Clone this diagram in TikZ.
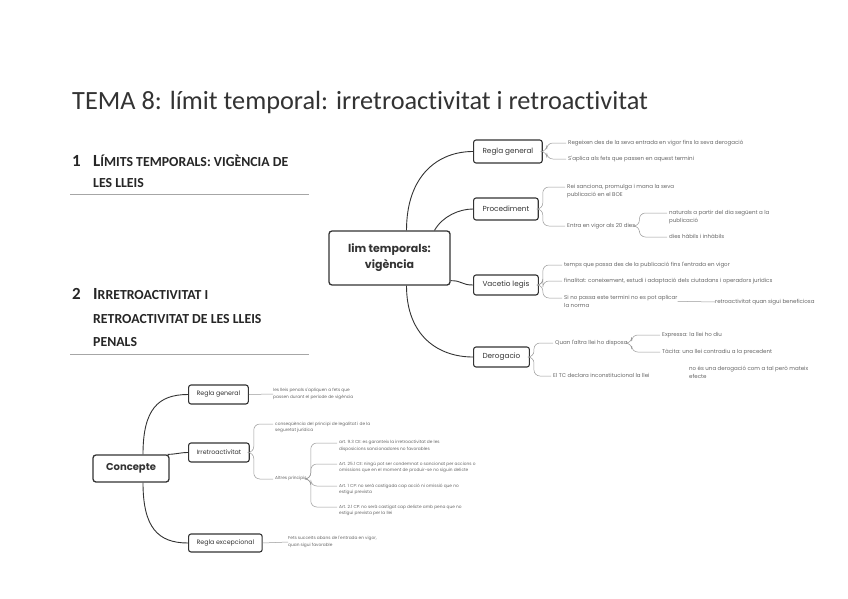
\documentclass[tikz,border=0pt]{standalone}
\usepackage{fontspec}
\setmainfont{Carlito}[Ligatures=CommonOff]
\newfontfamily\mapfont{Poppins}
\usetikzlibrary{positioning, calc}

\definecolor{inkgray}{HTML}{333333}
\definecolor{leafgray}{HTML}{666666}
\definecolor{linegray}{HTML}{9A9A9A}
\definecolor{rulegray}{HTML}{A6A6A6}

\newcommand\hsc[2]{{\fontsize{17}{18}\selectfont #1}{\fontsize{13.8}{15}\selectfont #2}}

\tikzset{
  topicbox/.style={draw=inkgray, line width=1.1pt, rounded corners=2.5pt, fill=white,
    text=inkgray, inner xsep=9pt, anchor=west},
  centralbox/.style={draw=inkgray, line width=1.3pt, rounded corners=3pt, fill=white,
    text=inkgray, align=center, font=\mapfont\bfseries},
  leaf/.style={text=leafgray, align=left, inner sep=0pt, anchor=north west,
    font=\mapfont\fontsize{5.5}{8}\selectfont},
  smallleaf/.style={leaf, font=\mapfont\fontsize{4.3}{6.5}\selectfont},
  branch/.style={draw=inkgray, line width=0.9pt},
  leafline/.style={draw=linegray, line width=0.5pt, rounded corners=6pt},
  heading/.style={anchor=base west, inner sep=0pt, text=black!85, font=\bfseries},
}

\begin{document}
\begin{tikzpicture}[x=1pt, y=-1pt]
    \fill[white] (0,0) rectangle (848,599);
    \useasboundingbox (0,0) rectangle (848,599);

    % title and headings
    \node[anchor=base west, inner sep=0pt, text=black!80, font=\fontsize{26.3}{30}\selectfont]
        (title) at (72,110) {TEMA 8: límit temporal: irretroactivitat i retroactivitat};

    \node[heading, font=\bfseries\fontsize{17}{18}\selectfont] (n1) at (72,166) {1};
    \node[heading] (h1a) at (93,166) {\hsc{L}{ÍMITS TEMPORALS: VIGÈNCIA DE}};
    \node[heading] (h1b) at (93,187) {\hsc{}{LES LLEIS}};
    \draw[rulegray, line width=0.8pt] (70,194) -- (309,194);

    \node[heading, font=\bfseries\fontsize{17}{18}\selectfont] (n2) at (72,299) {2};
    \node[heading] (h2a) at (93,299) {\hsc{I}{RRETROACTIVITAT I}};
    \node[heading] (h2b) at (93,323) {\hsc{}{RETROACTIVITAT DE LES LLEIS}};
    \node[heading] (h2c) at (93,346) {\hsc{}{PENALS}};
    \draw[rulegray, line width=0.8pt] (70,354) -- (309,354);

    % mind map: vigencia
    \node[centralbox, minimum width=121pt, minimum height=54pt,
        font=\mapfont\bfseries\fontsize{11}{16}\selectfont]
        (lt) at (389.5,258) {lim temporals:\\vigència};

    \node[topicbox, minimum height=23pt, font=\mapfont\fontsize{7.3}{9}\selectfont] (rg) at (473,151.5) {Regla general};
    \node[topicbox, minimum height=22pt, font=\mapfont\fontsize{7.3}{9}\selectfont] (pr) at (473,209) {Procediment};
    \node[topicbox, minimum height=20pt, font=\mapfont\fontsize{7.3}{9}\selectfont] (vl) at (473,285) {Vacetio legis};
    \node[topicbox, minimum height=20pt, font=\mapfont\fontsize{7.3}{9}\selectfont] (dr) at (473,357) {Derogacio};

    \draw[branch] ([xshift=17pt]lt.north) .. controls +(0,-55) and +(-35,0) .. (rg.west);
    \draw[branch] ([xshift=45pt]lt.north) .. controls +(8,-14) and +(-14,0) .. (pr.west);
    \draw[branch] ([yshift=5pt]lt.south east) .. controls +(12,0) and +(-12,0) .. (vl.west);
    \draw[branch] ([xshift=17pt]lt.south) .. controls +(0,50) and +(-35,0) .. (dr.west);

    \node[leaf] (r1) at (568,140) {Regeixen des de la seva entrada en vigor fins la seva derogació};
    \node[leaf] (r2) at (568,156) {S'aplica als fets que passen en aquest termini};
    \node[leaf] (p1) at (567,184) {Rei sanciona, promulga i mana la seva\\publicació en el BOE};
    \node[leaf] (p2) at (567,223) {Entra en vigor als 20 dies};
    \node[leaf] (p3) at (669,210) {naturals a partir del dia següent a la\\publicació};
    \node[leaf] (p4) at (669,234) {dies hàbils i inhàbils};
    \node[leaf] (v1) at (564,262) {temps que passa des de la publicació fins l'entrada en vigor};
    \node[leaf] (v2) at (564,278) {finalitat: coneixement, estudi i adaptació dels ciutadans i operadors jurídics};
    \node[leaf] (v3) at (564,295) {Si no passa este termini no es pot aplicar\\la norma};
    \node[leaf, anchor=west] (v4) at (715,302) {retroactivitat quan sigui beneficiosa};
    \node[leaf] (d1) at (555,340) {Quan l'altra llei ho disposa};
    \node[leaf] (d2) at (662,332) {Expressa: la llei ho diu};
    \node[leaf] (d3) at (662,349) {Tàcita: una llei contradiu a la precedent};
    \node[leaf] (d4) at (553,373) {El TC declara inconstitucional la llei};
    \node[leaf] (d5) at (689,366) {no és una derogació com a tal però mateix\\efecte};

    \foreach \a/\b in {rg/r1, rg/r2, pr/p1, pr/p2, p2/p3, p2/p4, vl/v1, vl/v2, vl/v3, dr/d1, dr/d4, d1/d2, d1/d3}
        \draw[leafline] (\a.east) -- ++(4,0) |- ([xshift=-2pt, yshift=-3pt]\b.north west);
    \draw[leafline] (v3.east) -- (v4.west);

    % mind map: concepte
    \node[centralbox, minimum width=76pt, minimum height=27pt,
        font=\mapfont\bfseries\fontsize{10}{12}\selectfont] (cp) at (131,468.5) {Concepte};

    \node[topicbox, inner xsep=8pt, minimum height=19pt, font=\mapfont\fontsize{6.3}{8}\selectfont] (rg2) at (188,394.5) {Regla general};
    \node[topicbox, inner xsep=8pt, minimum height=19pt, font=\mapfont\fontsize{6.3}{8}\selectfont] (ir) at (188,452.5) {Irretroactivitat};
    \node[topicbox, inner xsep=8pt, minimum height=18pt, font=\mapfont\fontsize{6.3}{8}\selectfont] (rx) at (188,543) {Regla excepcional};

    \draw[branch] ([xshift=12pt]cp.north) .. controls +(0,-45) and +(-30,0) .. (rg2.west);
    \draw[branch] ([xshift=-2pt]cp.north east) .. controls +(8,0) and +(-8,0) .. (ir.west);
    \draw[branch] ([xshift=12pt]cp.south) .. controls +(0,45) and +(-30,0) .. (rx.west);

    \node[smallleaf, anchor=west] (g1) at (273,394) {les lleis penals s'apliquen a fets que\\passen durant el període de vigència};
    \node[smallleaf] (i1) at (275,421.5) {conseqüència del principi de legalitat i de la\\seguretat jurídica};
    \node[smallleaf] (i2) at (275,476.5) {Altres principis};
    \node[smallleaf] (a1) at (339,440.5) {art. 9.3 CE: es garanteix la irretroactivitat de les\\disposicions sancionadores no favorables};
    \node[smallleaf] (a2) at (339,461.5) {Art. 25.1 CE: ningú pot ser condemnat o sancionat per accions o\\omissions que en el moment de produir-se no siguin delicte};
    \node[smallleaf] (a3) at (339,483.5) {Art. 1 CP: no serà castigada cap acció ni omissió que no\\estigui prevista};
    \node[smallleaf] (a4) at (339,504.5) {Art. 2.1 CP: no serà castigat cap delicte amb pena que no\\estigui prevista per la llei};
    \node[smallleaf, anchor=west] (x1) at (288,542) {Fets succeïts abans de l'entrada en vigor,\\quan sigui favorable};

    \draw[leafline] (rg2.east) -- (g1.west);
    \draw[leafline] (rx.east) -- (x1.west);
    \foreach \a/\b in {ir/i1, ir/i2, i2/a1, i2/a2, i2/a3, i2/a4}
        \draw[leafline] (\a.east) -- ++(4,0) |- ([xshift=-2pt, yshift=-2.5pt]\b.north west);
\end{tikzpicture}
\end{document}
